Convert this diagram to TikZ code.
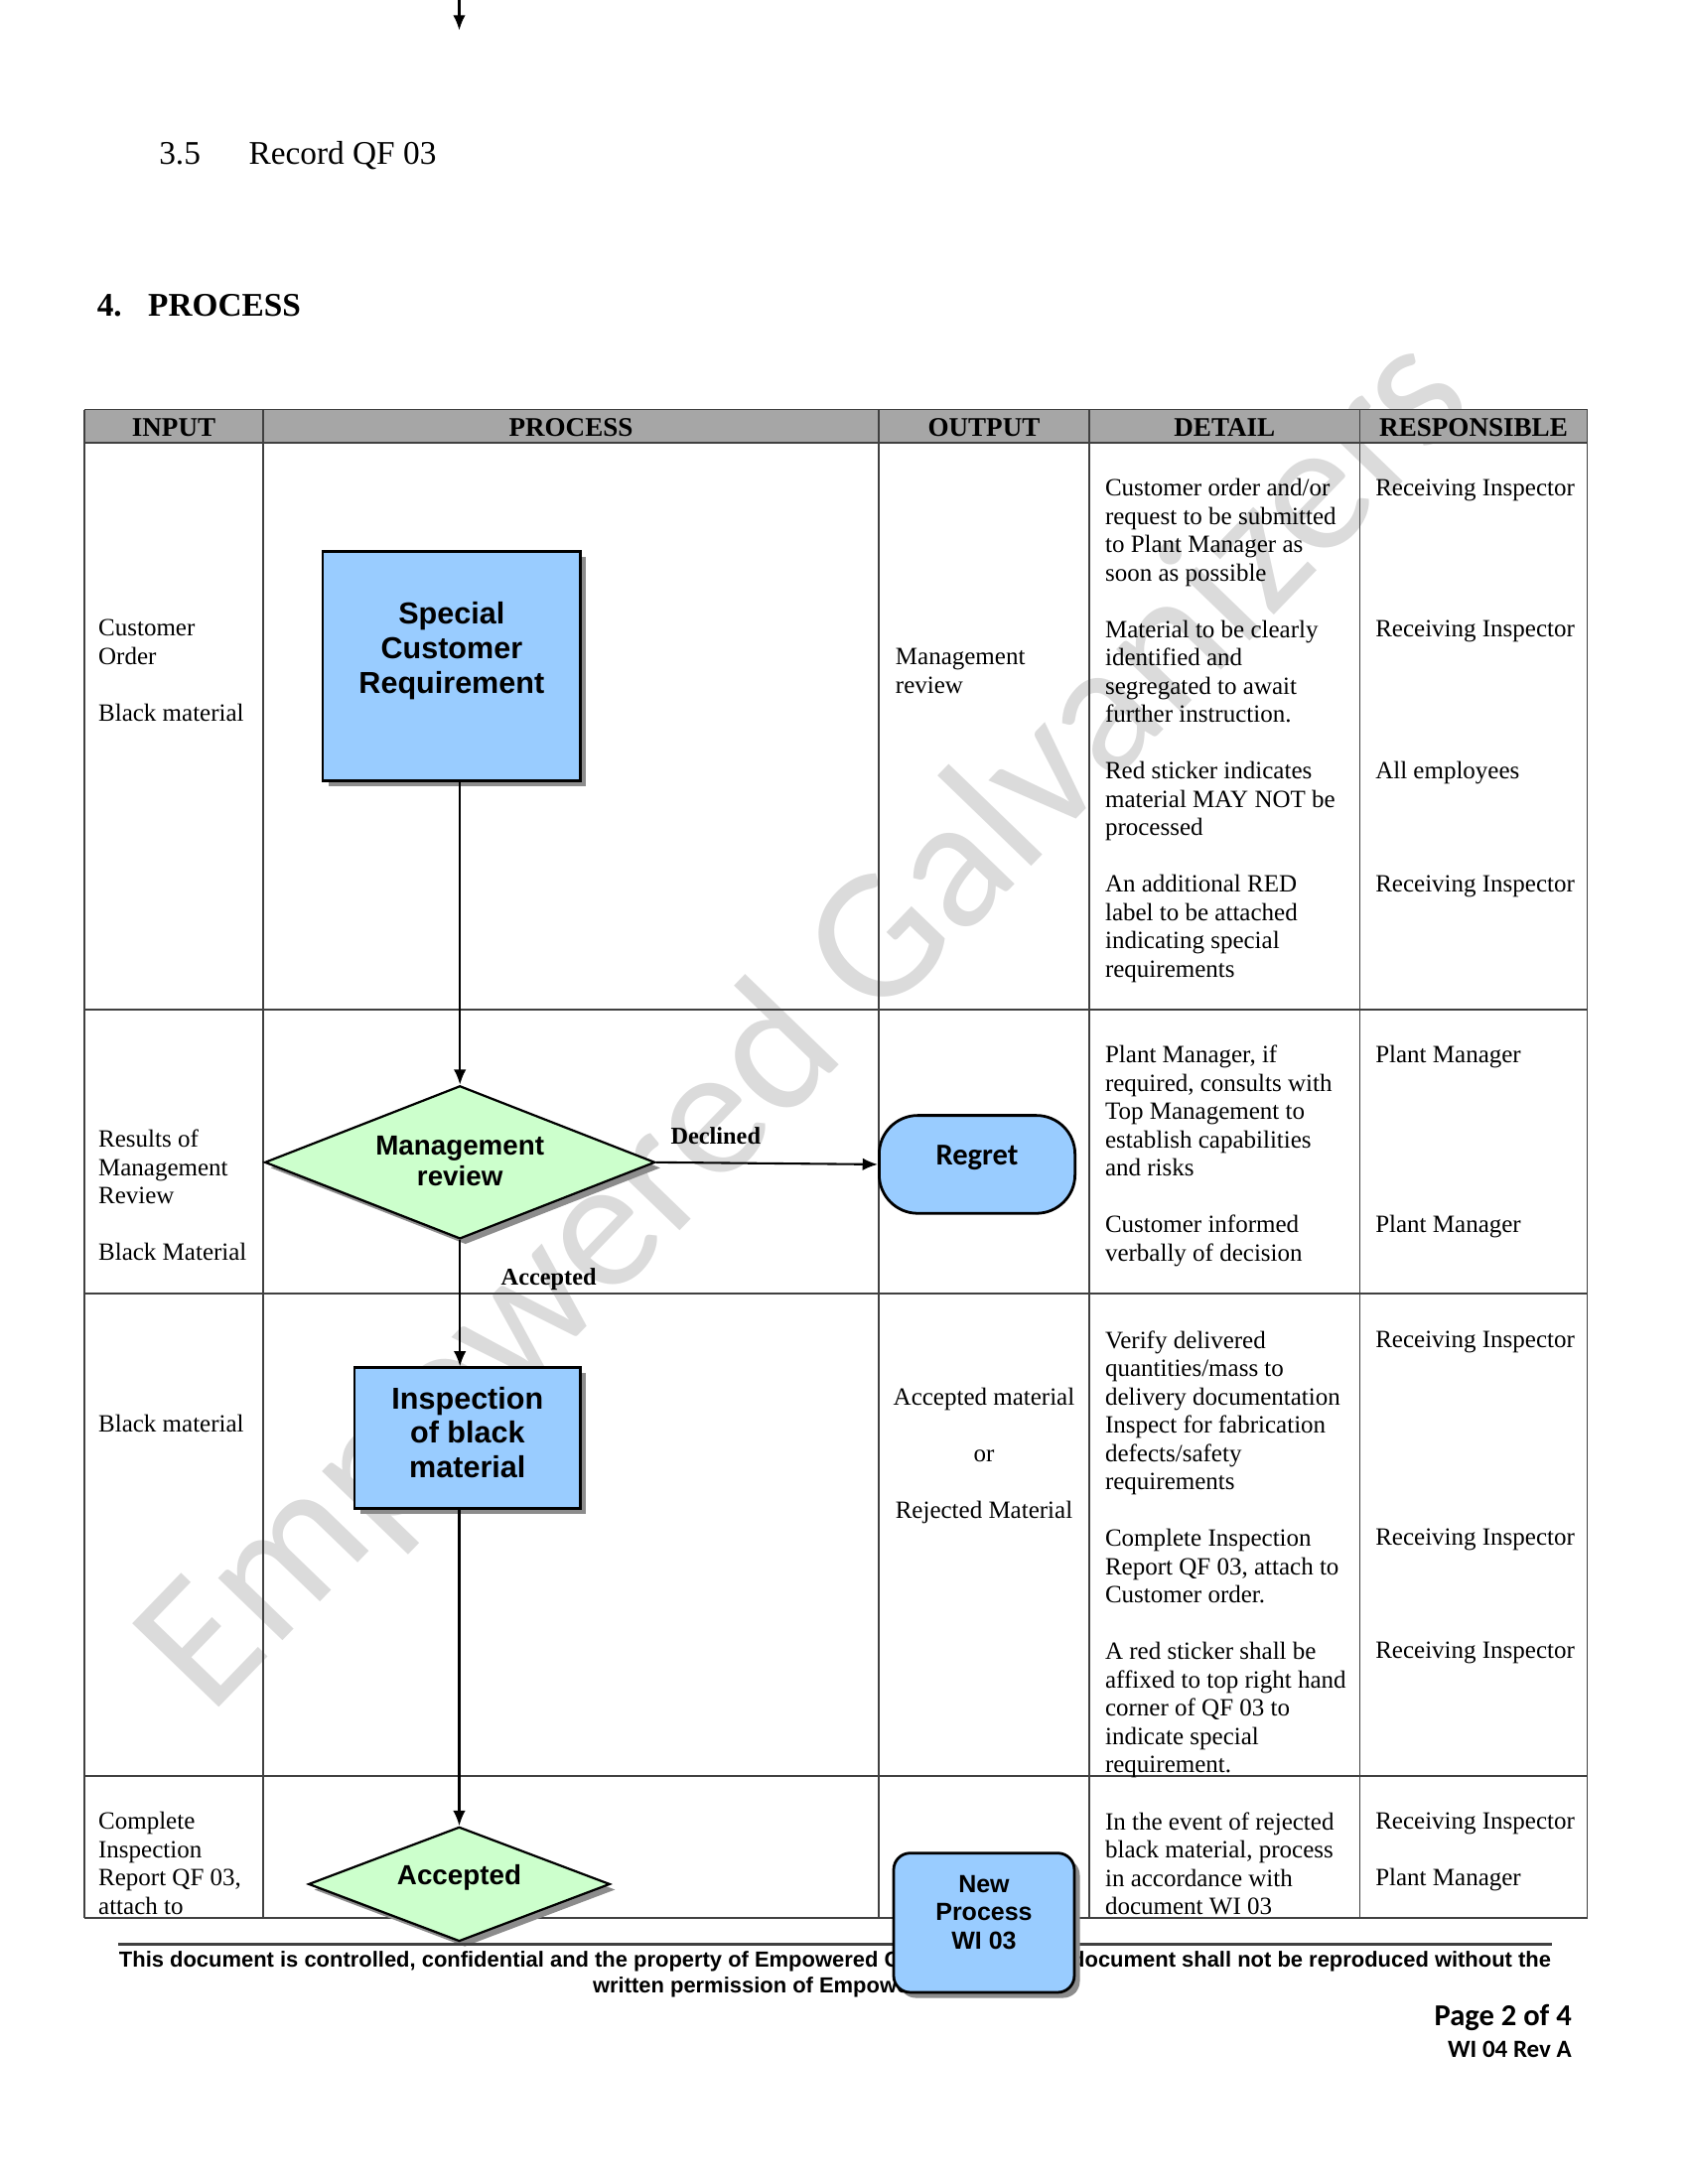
\documentclass[tikz,border=0pt]{standalone}
\usepackage{fontspec}
\setmainfont{Liberation Serif}
\setsansfont{Liberation Sans}
\newfontfamily\calibri{Carlito}
\usetikzlibrary{arrows.meta,positioning,calc,shapes.geometric,shadows}

\definecolor{procblue}{HTML}{99CCFF}
\definecolor{decgreen}{HTML}{CCFFCC}
\definecolor{headgray}{HTML}{A6A6A6}
\definecolor{rulegray}{HTML}{404040}

\tikzset{
  cell/.style={font=\fontsize{9}{10.26}\selectfont, align=left, anchor=north west, inner sep=0pt},
  head/.style={font=\bfseries\fontsize{9.75}{11}\selectfont, inner sep=0pt},
  tablerule/.style={rulegray, line width=0.6pt},
  procbox/.style={draw, line width=1pt, fill=procblue, drop shadow={shadow xshift=2pt, shadow yshift=-2pt, fill=black!45, opacity=1}},
  decision/.style={diamond, draw, line width=0.8pt, fill=decgreen, inner sep=0pt, drop shadow={shadow xshift=2pt, shadow yshift=-2pt, fill=black!45, opacity=1}},
  boxtext/.style={font=\sffamily\bfseries\fontsize{11}{12.5}\selectfont, align=center, inner sep=0pt},
  flow/.style={line width=0.75pt, -{Latex[length=5.5pt,width=4.5pt]}},
  branch/.style={font=\bfseries\fontsize{8.75}{10}\selectfont, inner sep=0pt, anchor=base west}
}

\begin{document}
\begin{tikzpicture}[x=0.5pt,y=-0.5pt]
\useasboundingbox (0,0) rectangle (1224,1584);

% watermark behind everything
\node[font=\calibri\fontsize{68}{68}\selectfont, text=black!14, rotate=46, inner sep=0pt] (wm) at (586,744) {Empowered Galvanizers};

% flow coming from the previous page
\coordinate (prevflow) at (333,-2);
\coordinate (prevend) at (333,22);
\draw[flow] (prevflow) -- (prevend);

\node[anchor=base west, font=\fontsize{12}{14}\selectfont, inner sep=0pt] (secnum) at (115,119) {3.5};
\node[anchor=base west, font=\fontsize{12}{14}\selectfont, inner sep=0pt] (sectitle) at (180,119) {Record QF 03};
\node[anchor=base west, font=\bfseries\fontsize{12}{14}\selectfont, inner sep=0pt] (procnum) at (70,229) {4.};
\node[anchor=base west, font=\bfseries\fontsize{12}{14}\selectfont, inner sep=0pt] (proctitle) at (107,229) {PROCESS};

% table
\fill[headgray] (61,297) rectangle (1151,321);
\foreach \y in {297,321,732,938,1288,1391}
  \draw[tablerule] (61,\y) -- (1151,\y);
\foreach \x in {61,191,637,790,986,1151}
  \draw[tablerule] (\x,297) -- (\x,1391);

\node[head] (hInput) at (126,310) {INPUT};
\node[head] (hProcess) at (414,310) {PROCESS};
\node[head] (hOutput) at (713.5,310) {OUTPUT};
\node[head] (hDetail) at (888,310) {DETAIL};
\node[head] (hResp) at (1068.5,310) {RESPONSIBLE};

% input column
\node[cell] (inCust) at (71,449) {Customer\\Order\\~\\Black material};
\node[cell] (inResult) at (71,819) {Results of\\Management\\Review\\~\\Black Material};
\node[cell, anchor=base west] (inBlack) at (71,1038.5) {Black material};
\node[cell] (inReport) at (71,1314) {Complete\\Inspection\\Report QF 03,\\attach to};

% output column
\node[cell] (outReview) at (649,470) {Management\\review};
\node[cell, align=center, anchor=north] (outMat) at (713.5,1006) {Accepted material\\~\\or\\~\\Rejected Material};

% detail column
\node[cell] (dtOne) at (801,347) {Customer order and/or\\request to be submitted\\to Plant Manager as\\soon as possible\\~\\
  Material to be clearly\\identified and\\segregated to await\\further instruction.\\~\\
  Red sticker indicates\\material MAY NOT be\\processed\\~\\
  An additional RED\\label to be attached\\indicating special\\requirements};
\node[cell] (dtTwo) at (801,758) {Plant Manager, if\\required, consults with\\Top Management to\\establish capabilities\\and risks\\~\\
  Customer informed\\verbally of decision};
\node[cell] (dtThree) at (801,965) {Verify delivered\\quantities/mass to\\delivery documentation\\Inspect for fabrication\\defects/safety\\requirements\\~\\
  Complete Inspection\\Report QF 03, attach to\\Customer order.\\~\\
  A red sticker shall be\\affixed to top right hand\\corner of QF 03 to\\indicate special\\requirement.};
\node[cell] (dtFour) at (801,1314) {In the event of rejected\\black material, process\\in accordance with\\document WI 03};

% responsible column
\node[cell] (rsOne) at (997,347) {Receiving Inspector\\~\\~\\~\\~\\Receiving Inspector\\~\\~\\~\\~\\All employees\\~\\~\\~\\Receiving Inspector};
\node[cell] (rsTwo) at (997,758) {Plant Manager\\~\\~\\~\\~\\~\\Plant Manager};
\node[cell] (rsThree) at (997,965) {Receiving Inspector\\~\\~\\~\\~\\~\\~\\Receiving Inspector\\~\\~\\~\\Receiving Inspector};
\node[cell] (rsFour) at (997,1314) {Receiving Inspector\\~\\Plant Manager};

% flow chart
\node[procbox, minimum width=93.5pt, minimum height=83pt] (scr) at (327.5,483) {};
\node[boxtext] (scrText) at (327.5,472) {Special\\Customer\\Requirement};

\node[decision, minimum width=141.5pt, minimum height=55.5pt] (mr) at (333.5,843) {};
\node[boxtext, font=\sffamily\bfseries\fontsize{10}{11}\selectfont] (mrText) at (333.5,842) {Management\\review};

\node[draw, line width=1pt, fill=procblue, rounded corners=14pt, minimum width=71pt, minimum height=35.5pt] (rg) at (708.5,844.5) {};
\node[font=\calibri\bfseries\fontsize{11}{13}\selectfont, inner sep=0pt] (rgText) at (708.5,840) {Regret};

\node[procbox, minimum width=82pt, minimum height=51pt] (insp) at (339,1043) {};
\node[boxtext] (inspText) at (339,1039) {Inspection\\of black\\material};

\node[decision, minimum width=109.3pt, minimum height=41.5pt] (acc) at (333,1366.5) {};
\node[boxtext, font=\sffamily\bfseries\fontsize{10}{11}\selectfont] (accText) at (333,1362) {Accepted};

\draw[flow] (scr.south -| mr.north) -- (mr.north);
\draw[flow] (mr.east) -- (rg.west);
\draw[flow] (mr.south) -- (mr.south |- insp.north);
\draw[flow] (insp.south -| acc.north) -- (acc.north);
\node[branch] (lblDecl) at (486,830) {Declined};
\node[branch] (lblAcc) at (363,932) {Accepted};

% footer
\draw[rulegray, line width=0.9pt] (86,1410) -- (1125,1410);
\node[font=\sffamily\bfseries\fontsize{7.9}{9.5}\selectfont, align=center, anchor=north, inner sep=0pt] (footer) at (605.5,1414.5)
  {This document is controlled, confidential and the property of Empowered Galvanizers. This document shall not be reproduced without the\\written permission of Empowered Galvanizers.};

\node[procbox, rounded corners=6pt, minimum width=65.5pt, minimum height=50.5pt] (np) at (713.5,1394.5) {};
\node[boxtext, font=\sffamily\bfseries\fontsize{9}{10.25}\selectfont] (npText) at (713.5,1387) {New\\Process\\WI 03};

\node[anchor=base east, font=\calibri\bfseries\fontsize{11}{13}\selectfont, inner sep=0pt] (pageno) at (1140,1469) {Page 2 of 4};
\node[anchor=base east, font=\calibri\bfseries\fontsize{9}{11}\selectfont, inner sep=0pt] (docref) at (1140,1492) {WI 04 Rev A};
\end{tikzpicture}
\end{document}
